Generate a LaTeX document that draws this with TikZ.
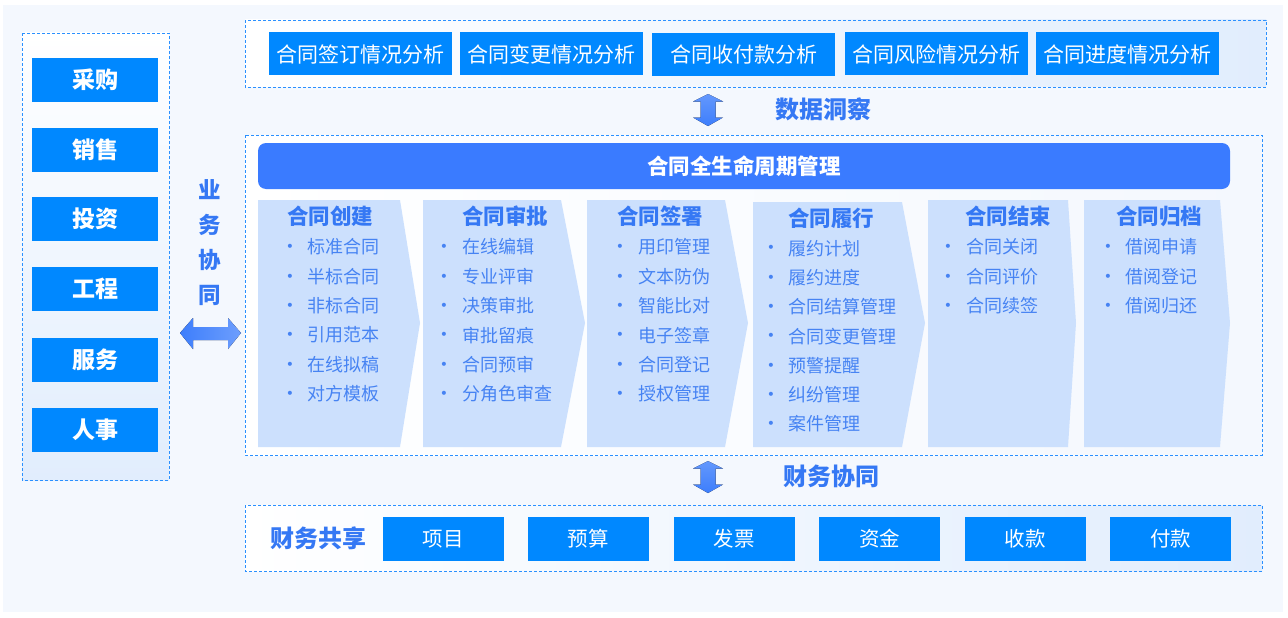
\documentclass[tikz,border=0pt]{standalone}
\usepackage{fontspec}
\setmainfont{Noto Sans CJK SC}
\newfontfamily\dotfont{DejaVu Sans}
\usetikzlibrary{positioning}
\definecolor{bgblue}{HTML}{F4F8FE}
\definecolor{dashblue}{HTML}{2A90FF}
\definecolor{btnblue}{HTML}{0088FF}
\definecolor{titleblue}{HTML}{3A7BFF}
\definecolor{headblue}{HTML}{3578F4}
\definecolor{itemblue}{HTML}{4683F3}
\definecolor{stagefill}{HTML}{CCE0FD}
\definecolor{arrowblue}{HTML}{3D7EFC}
\definecolor{gradblue}{HTML}{E1EDFD}

\begin{document}
\begin{tikzpicture}[x=1pt,y=-1pt,
	dashframe/.style={draw=dashblue,dash pattern=on 3pt off 2pt,line width=0.9pt},
	bizbox/.style={fill=btnblue,text=white,minimum width=126pt,minimum height=44pt,inner sep=0pt,font=\fontsize{23}{23}\selectfont\bfseries},
	anabox/.style={fill=btnblue,text=white,minimum width=183pt,minimum height=43pt,inner sep=0pt,font=\fontsize{21}{21}\selectfont},
	finbox/.style={fill=btnblue,text=white,minimum width=121pt,minimum height=44pt,inner sep=0pt,font=\fontsize{20.5}{20.5}\selectfont},
	stagehead/.style={text=headblue,inner sep=0pt,font=\fontsize{21.5}{21.5}\selectfont\bfseries},
	dot/.style={text=itemblue,inner sep=0pt,yshift=-1pt,font=\dotfont\fontsize{14}{14}\selectfont},
	item/.style={text=itemblue,anchor=west,inner sep=0pt,font=\fontsize{18}{18}\selectfont},
	tagtext/.style={text=headblue,inner sep=0pt,font=\fontsize{24}{24}\selectfont\bfseries},
	bigarrow/.style={top color=arrowblue!80!white,bottom color=arrowblue}]
	\useasboundingbox (0,0) rectangle (1288,618);
	\fill[bgblue] (3,5) rectangle (1283,612);
	% frames
	\draw[dashframe,top color=white,bottom color=gradblue] (22,33) rectangle (169,480);
	\draw[dashframe,left color=white,right color=gradblue] (245,20) rectangle (1266,87);
	\draw[dashframe,left color=white,right color=bgblue] (245,135) rectangle (1262,455);
	\draw[dashframe,left color=white,right color=gradblue] (245,505) rectangle (1262,571);
	% business side
	\draw (95,80) node(biz1) [bizbox] {采购};
	\draw (95,150) node(biz2) [bizbox] {销售};
	\draw (95,219) node(biz3) [bizbox] {投资};
	\draw (95,289) node(biz4) [bizbox] {工程};
	\draw (95,360) node(biz5) [bizbox] {服务};
	\draw (95,430) node(biz6) [bizbox] {人事};
	\draw (210,243) node(bizlink) [tagtext,align=center,font=\fontsize{22.5}{35}\selectfont\bfseries] {业\\务\\协\\同};
	\fill[left color=arrowblue,right color=arrowblue!75!white] (180,333) -- (193,318) -- (193,327) -- (228,327) -- (228,318) -- (241,333)
		-- (228,349) -- (228,340) -- (193,340) -- (193,349) -- cycle;
	% data insight
	\draw (360.5,54) node(ana1) [anabox] {合同签订情况分析};
	\draw (551.5,54) node(ana2) [anabox] {合同变更情况分析};
	\draw (743.5,55) node(ana3) [anabox] {合同收付款分析};
	\draw (936,54) node(ana4) [anabox] {合同风险情况分析};
	\draw (1127,54) node(ana5) [anabox] {合同进度情况分析};
	\fill[bigarrow,shift={(708,110)}] (0,-16) -- (15,-8.5) -- (7.5,-8.5) -- (7.5,7.5) -- (15,7.5) -- (0,16)
		-- (-15,7.5) -- (-7.5,7.5) -- (-7.5,-8.5) -- (-15,-8.5) -- cycle;
	\draw (823,109) node(datalink) [tagtext] {数据洞察};
	% lifecycle
	\draw (744,166) node(life) [fill=titleblue,rounded corners=8pt,minimum width=972pt,minimum height=46pt,text=white,
		font=\fontsize{21.5}{21.5}\selectfont\bfseries] {合同全生命周期管理};
	\foreach \xa/\xb/\xc/\ya in {258/400/420/200,423/561/585/200,587/725/748/200,753/902/925/202,928/1068/1076/200,1084/1220/1230/200}
		\fill[stagefill] (\xa,\ya) -- (\xb,\ya) -- (\xc,323) -- (\xb,447) -- (\xa,447) -- cycle;
	\draw (330,216) node(stg1) [stagehead] {合同创建};
	\draw (505,216) node(stg2) [stagehead] {合同审批};
	\draw (660,216) node(stg3) [stagehead] {合同签署};
	\draw (831,218) node(stg4) [stagehead] {合同履行};
	\draw (1008,216) node(stg5) [stagehead] {合同结束};
	\draw (1159,216) node(stg6) [stagehead] {合同归档};
	\foreach \t [count=\i] in {标准合同,半标合同,非标合同,引用范本,在线拟稿,对方模板}
		\draw (290,217.6+29.4*\i) node(d1\i) [dot] {•} (307,217.6+29.4*\i) node(s1\i) [item] {\t};
	\foreach \t [count=\i] in {在线编辑,专业评审,决策审批,审批留痕,合同预审,分角色审查}
		\draw (444,217.6+29.4*\i) node(d2\i) [dot] {•} (462,217.6+29.4*\i) node(s2\i) [item] {\t};
	\foreach \t [count=\i] in {用印管理,文本防伪,智能比对,电子签章,合同登记,授权管理}
		\draw (620,217.6+29.4*\i) node(d3\i) [dot] {•} (638,217.6+29.4*\i) node(s3\i) [item] {\t};
	\foreach \t [count=\i] in {履约计划,履约进度,合同结算管理,合同变更管理,预警提醒,纠纷管理,案件管理}
		\draw (771,218.9+29.3*\i) node(d4\i) [dot] {•} (788,218.9+29.3*\i) node(s4\i) [item] {\t};
	\foreach \t [count=\i] in {合同关闭,合同评价,合同续签}
		\draw (948,217.6+29.4*\i) node(d5\i) [dot] {•} (966,217.6+29.4*\i) node(s5\i) [item] {\t};
	\foreach \t [count=\i] in {借阅申请,借阅登记,借阅归还}
		\draw (1108,217.6+29.4*\i) node(d6\i) [dot] {•} (1125,217.6+29.4*\i) node(s6\i) [item] {\t};
	% finance
	\fill[bigarrow,shift={(708,477)}] (0,-16) -- (15,-8.5) -- (7.5,-8.5) -- (7.5,7.5) -- (15,7.5) -- (0,16)
		-- (-15,7.5) -- (-7.5,7.5) -- (-7.5,-8.5) -- (-15,-8.5) -- cycle;
	\draw (831,476) node(finlink) [tagtext] {财务协同};
	\draw (318,538) node(finshare) [tagtext] {财务共享};
	\draw (443,539) node(fin1) [finbox] {项目};
	\draw (588,539) node(fin2) [finbox] {预算};
	\draw (734,539) node(fin3) [finbox] {发票};
	\draw (879.5,539) node(fin4) [finbox] {资金};
	\draw (1025,539) node(fin5) [finbox] {收款};
	\draw (1170.5,539) node(fin6) [finbox] {付款};
\end{tikzpicture}
\end{document}
